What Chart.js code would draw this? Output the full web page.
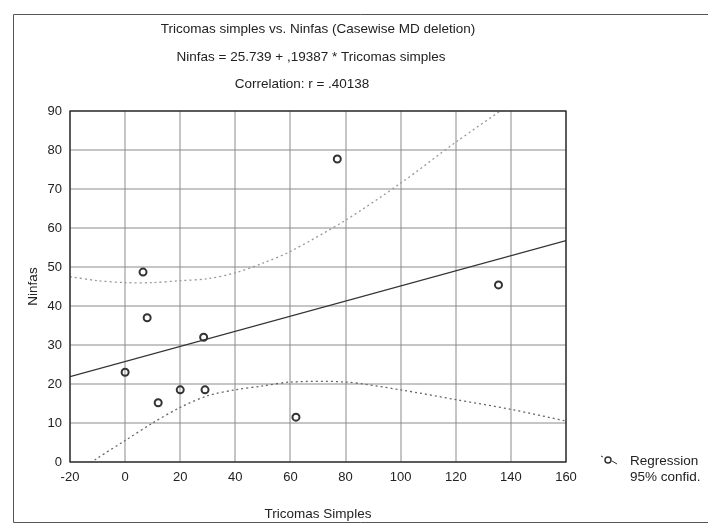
<!DOCTYPE html>
<html>
<head>
<meta charset="utf-8">
<script src="https://cdn.jsdelivr.net/npm/chart.js@4"></script>
<style>
  body { margin: 0; background: #fff; }
  canvas { display: block; }
</style>
</head>
<body>
<canvas id="chartScatter" width="708" height="527"></canvas>
<script>
// datos
var tricomas = [0, 6.5, 8, 12, 20, 28.5, 29, 62, 77, 135.5];
var ninfas = [23, 48.7, 37, 15.2, 18.5, 32, 18.5, 11.5, 77.7, 45.4];

// recta de regresion: Ninfas = 25.739 + .19387 * Tricomas simples
var regX = [-20, 160];
var regY = [21.86, 56.76];

// bandas de confianza 95%
var bandX = [-20, -10, 0, 10, 20, 30, 40, 50, 60, 80, 100, 120, 140, 160];
var bandLower = [-4, 1, 5.5, 10, 14, 17, 18.5, 19.5, 20.5, 20.5, 18.5, 16, 13.5, 10.5];
var bandUpper = [47.5, 46.5, 46, 46, 46.5, 47, 48.5, 51, 54, 62, 71.5, 82, 92, 103];

var xRange = [-20, 160, 20];
var yRange = [0, 90, 10];

var titleLines = [
    "Tricomas simples vs. Ninfas (Casewise MD deletion)",
    "Ninfas = 25.739 + ,19387 * Tricomas simples",
    "Correlation: r = .40138"
];
var legendLines = ["Regression", "95% confid."];

function pairs(xs, ys) {
    return xs.map(function (x, i) { return { x: x, y: ys[i] }; });
}

var FONT = "'Liberation Sans', Arial, sans-serif";

var decor = {
    id: 'decor',
    beforeDraw: function (chart) {
        var ctx = chart.ctx;
        ctx.save();
        ctx.fillStyle = '#ffffff';
        ctx.fillRect(0, 0, chart.width, chart.height);
        ctx.restore();
    },
    afterDraw: function (chart) {
        var ctx = chart.ctx;
        var a = chart.chartArea;
        ctx.save();

        // marco exterior
        ctx.strokeStyle = '#555';
        ctx.lineWidth = 1;
        ctx.beginPath();
        ctx.moveTo(708, 14.5);
        ctx.lineTo(13.5, 14.5);
        ctx.lineTo(13.5, 522.5);
        ctx.lineTo(708, 522.5);
        ctx.stroke();

        // marco del grafico
        ctx.strokeStyle = '#222';
        ctx.lineWidth = 1.3;
        ctx.strokeRect(a.left, a.top, a.right - a.left, a.bottom - a.top);

        // titulos
        ctx.fillStyle = '#222';
        ctx.font = '13.5px ' + FONT;
        ctx.textAlign = 'center';
        ctx.textBaseline = 'middle';
        var cx = (a.left + a.right) / 2;
        var ys = [29, 57, 84];
        var dx = [0, -7, -16];
        titleLines.forEach(function (t, i) { ctx.fillText(t, cx + dx[i], ys[i]); });

        // leyenda
        ctx.strokeStyle = '#333';
        ctx.lineWidth = 1.5;
        ctx.beginPath();
        ctx.arc(608, 460, 3, 0, Math.PI * 2);
        ctx.stroke();
        ctx.lineWidth = 1;
        ctx.beginPath();
        ctx.moveTo(601, 456);
        ctx.lineTo(603, 457);
        ctx.moveTo(612, 461);
        ctx.lineTo(617, 464);
        ctx.stroke();
        ctx.textAlign = 'left';
        ctx.font = '13.5px ' + FONT;
        ctx.fillText(legendLines[0], 630, 461);
        ctx.fillText(legendLines[1], 630, 477);

        ctx.restore();
    }
};

var gridStyle = {
    color: 'rgba(140,140,140,0.5)',
    lineWidth: 2,
    drawTicks: false
};

new Chart(document.getElementById('chartScatter'), {
    type: 'scatter',
    data: {
        datasets: [
            {
                label: 'Ninfas',
                data: pairs(tricomas, ninfas),
                pointStyle: 'circle',
                pointRadius: 3.5,
                pointBorderWidth: 2,
                pointBorderColor: '#333',
                pointBackgroundColor: 'rgba(0,0,0,0)',
                showLine: false,
                order: 0
            },
            {
                label: 'Regression',
                data: pairs(regX, regY),
                showLine: true,
                borderColor: '#333',
                borderWidth: 1.3,
                pointRadius: 0,
                order: 1
            },
            {
                label: '95% confid. inf',
                data: pairs(bandX, bandLower),
                showLine: true,
                borderColor: '#666',
                borderWidth: 1.3,
                borderDash: [2, 3],
                tension: 0.3,
                pointRadius: 0,
                order: 2
            },
            {
                label: '95% confid. sup',
                data: pairs(bandX, bandUpper),
                showLine: true,
                borderColor: '#999',
                borderWidth: 1.3,
                borderDash: [2, 3],
                tension: 0.3,
                pointRadius: 0,
                order: 3
            }
        ]
    },
    options: {
        responsive: false,
        animation: false,
        layout: {
            padding: { left: 13, top: 111, right: 142, bottom: 5 }
        },
        plugins: {
            legend: { display: false },
            title: { display: false },
            tooltip: { enabled: false }
        },
        scales: {
            x: {
                type: 'linear',
                min: xRange[0],
                max: xRange[1],
                ticks: {
                    stepSize: xRange[2],
                    color: '#222',
                    padding: 8,
                    maxRotation: 0,
                    font: { family: FONT, size: 13 }
                },
                grid: gridStyle,
                border: { display: false },
                title: {
                    display: true,
                    text: 'Tricomas Simples',
                    color: '#222',
                    font: { family: FONT, size: 13.5 },
                    padding: { top: 0, bottom: 0 }
                },
                afterFit: function (scale) { scale.height = 60; }
            },
            y: {
                type: 'linear',
                min: yRange[0],
                max: yRange[1],
                ticks: {
                    stepSize: yRange[2],
                    color: '#222',
                    padding: 8,
                    font: { family: FONT, size: 13 }
                },
                grid: gridStyle,
                border: { display: false },
                title: {
                    display: true,
                    text: 'Ninfas',
                    color: '#222',
                    font: { family: FONT, size: 13.5 },
                    padding: { top: 12, bottom: 0 }
                },
                afterFit: function (scale) { scale.width = 57; }
            }
        }
    },
    plugins: [decor]
});
</script>
</body>
</html>
